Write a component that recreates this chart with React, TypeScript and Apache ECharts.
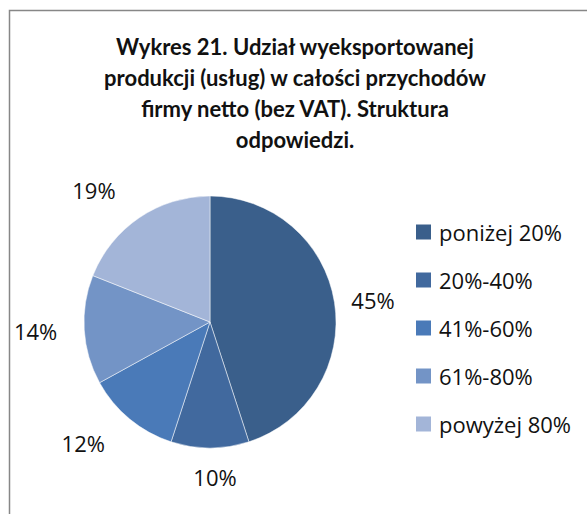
import React, { useEffect, useRef } from "react";
import * as echarts from "echarts";

const titleLines = [
  "Wykres 21. Udział wyeksportowanej",
  "produkcji (usług) w całości przychodów",
  "firmy netto (bez VAT). Struktura",
  "odpowiedzi.",
];
const categories = ["poniżej 20%", "20%-40%", "41%-60%", "61%-80%", "powyżej 80%"];
const values = [45, 10, 12, 14, 19];
const colors = ["#3A5F8B", "#41699E", "#4A7AB8", "#7394C6", "#A3B5D8"];
const labelLengths = [12, 29, 31, 22, 33];

export default function App() {
  const ref = useRef<HTMLDivElement>(null);
  useEffect(() => {
    if (!ref.current) return;
    const chart = echarts.init(ref.current, undefined, { renderer: "svg" });
    chart.setOption({
      animation: false,
      backgroundColor: "#ffffff",
      textStyle: { fontFamily: "Open Sans" },
      title: {
        text: titleLines.join("\n"),
        left: 290,
        top: 26,
        textAlign: "center",
        textStyle: {
          fontFamily: "Lato",
          fontWeight: "bold",
          fontSize: 22,
          lineHeight: 31,
          color: "#111111",
        },
      },
      graphic: [
        {
          type: "polyline",
          shape: { points: [[9.5, 514], [9.5, 10.5], [587, 10.5]] },
          style: { stroke: "#878787", lineWidth: 1.5, fill: "none" },
          silent: true,
        },
      ],
      legend: {
        orient: "vertical",
        left: 409,
        top: 216,
        itemWidth: 17,
        itemHeight: 17,
        itemGap: 26,
        icon: "rect",
        textStyle: {
          fontFamily: "Open Sans",
          fontSize: 22,
          lineHeight: 22,
          color: "#111111",
          padding: [0, 0, 0, 2],
        },
        data: categories,
      },
      series: [
        {
          type: "pie",
          center: [210, 322],
          radius: 126,
          startAngle: 90,
          clockwise: true,
          data: categories.map((c, i) => ({
            name: c,
            value: values[i],
            itemStyle: { color: colors[i] },
            labelLine: { show: false, length: labelLengths[i], length2: 0 },
          })),
          itemStyle: { borderColor: "#ffffff", borderWidth: 0.5 },
          label: {
            show: true,
            position: "outside",
            formatter: "{c}%",
            fontFamily: "Open Sans",
            fontSize: 22,
            color: "#111111",
          },
          labelLayout: (params: any) =>
            params.dataIndex === 1 ? { align: "center" } : {},
        },
      ],
    });
    return () => chart.dispose();
  }, []);
  return (
    <div
      ref={ref}
      style={{ position: "fixed", left: 0, top: 0, width: 587, height: 514 }}
    />
  );
}
